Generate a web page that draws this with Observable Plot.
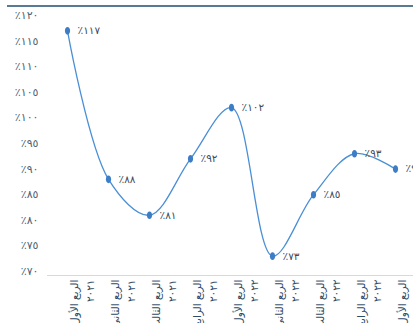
<!DOCTYPE html>
<html lang="ar">
<head>
<meta charset="utf-8">
<script src="https://cdn.jsdelivr.net/npm/d3@7"></script>
<script src="https://cdn.jsdelivr.net/npm/@observablehq/plot@0.6"></script>
<style>
  html, body { margin: 0; padding: 0; background: #fff; }
  #wrap { position: relative; width: 413px; height: 323px; overflow: hidden; }
  #topline { position: absolute; left: 7px; right: 0; top: 5px; height: 2px; background: #587b93; }
  #chart { position: absolute; left: 0; top: 0; }
</style>
</head>
<body>
<div id="wrap">
  <div id="chart"></div>
  <div id="topline"></div>
</div>
<script>
// Quarterly ratio, Q1 2021 – Q1 2023
const quarters = ["الربع الأول", "الربع الثاني", "الربع الثالث", "الربع الرابع",
                  "الربع الأول", "الربع الثاني", "الربع الثالث", "الربع الرابع",
                  "الربع الأول"];
const years = ["٢٠٢١", "٢٠٢١", "٢٠٢١", "٢٠٢١", "٢٠٢٢", "٢٠٢٢", "٢٠٢٢", "٢٠٢٢", "٢٠٢٣"];
const values = [117, 88, 81, 92, 102, 73, 85, 93, 90];
const yTicks = [70, 75, 80, 85, 90, 95, 100, 105, 110, 115, 120];

const arDigits = "٠١٢٣٤٥٦٧٨٩";
const toArabic = n => String(n).replace(/\d/g, d => arDigits[d]);
const pct = n => "٪" + toArabic(n);

// category keys carry an index so repeated quarter names stay distinct
const cats = quarters.map((q, i) => `${i}|${q}\n${years[i]}`);
const data = values.map((v, i) => ({cat: cats[i], value: v}));

// vertical oval marker
const oval = {
  draw(context, size) {
    const rx = 2.6, ry = 3.8, k = 0.5523;
    context.moveTo(rx, 0);
    context.bezierCurveTo(rx, ry * k, rx * k, ry, 0, ry);
    context.bezierCurveTo(-rx * k, ry, -rx, ry * k, -rx, 0);
    context.bezierCurveTo(-rx, -ry * k, -rx * k, -ry, 0, -ry);
    context.bezierCurveTo(rx * k, -ry, rx, -ry * k, rx, 0);
    context.closePath();
  }
};

const font = "DejaVu Sans, sans-serif";

const chart = Plot.plot({
  width: 413,
  height: 323,
  marginLeft: 40,
  marginRight: 0,
  marginTop: 15,
  marginBottom: 52,
  style: {fontFamily: font, background: "transparent", overflow: "visible"},
  x: {type: "point", domain: cats, range: [66, 396], padding: 0, axis: null},
  y: {domain: [70, 120], axis: null},
  marks: [
    Plot.axisY({ticks: yTicks, tickSize: 0, tickPadding: 2, tickFormat: pct, label: null,
                fontSize: 11, fill: "#4f6274", textAnchor: "end"}),
    Plot.ruleY([70], {stroke: "#d9d9d9", strokeWidth: 1.2, insetLeft: 7, dy: 4}),
    // rotated two-line category labels (quarter, year)
    Plot.text(cats, {
      x: d => d, frameAnchor: "bottom", dy: 8, dx: 13,
      text: d => d.split("|")[1], rotate: -90, textAnchor: "end",
      lineAnchor: "middle", lineHeight: 1.55,
      fontSize: 10.5, fill: "#2f4b66"
    }),
    Plot.line(data, {x: "cat", y: "value", curve: "catmull-rom",
                     stroke: "#4a8fd6", strokeWidth: 1.3}),
    Plot.dot(data, {x: "cat", y: "value", symbol: oval, fill: "#3c7dc6", stroke: "none"}),
    Plot.text(data, {x: "cat", y: "value", text: d => pct(d.value), dx: 10,
                     textAnchor: "start", fontSize: 10.5, fill: "#3c4a5c"})
  ]
});
document.getElementById("chart").append(chart);
</script>
</body>
</html>
